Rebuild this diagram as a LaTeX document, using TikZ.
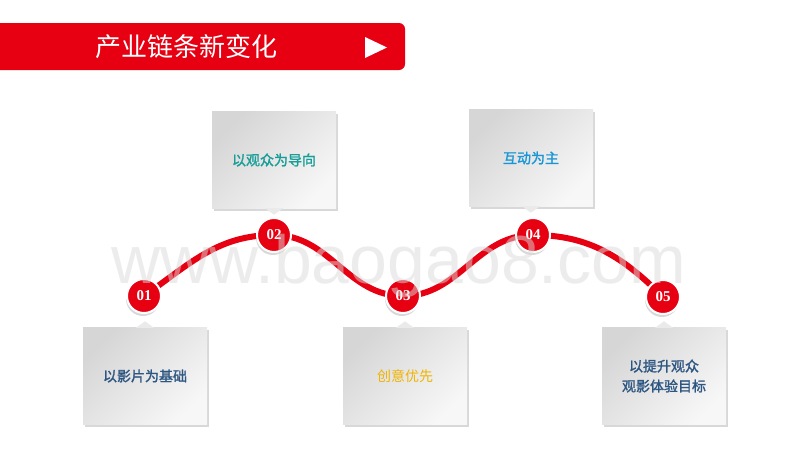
\documentclass[tikz,border=0pt]{standalone}
\usepackage{fontspec}
\newfontfamily\cjk{Noto Sans CJK SC}
\newfontfamily\cjkb[FakeBold=1.6]{Noto Sans CJK SC}
\newfontfamily\wmfont{Liberation Sans}
\newfontfamily\numfont{Liberation Serif}
\usetikzlibrary{shadows}
\definecolor{zred}{RGB}{230,0,18}
\definecolor{navy}{RGB}{46,86,130}
\definecolor{tealtext}{RGB}{24,158,152}
\definecolor{goldtext}{RGB}{240,180,0}
\definecolor{skytext}{RGB}{26,150,214}
\definecolor{cardlo}{RGB}{214,214,214}
\definecolor{cardhi}{RGB}{247,247,247}
\definecolor{notchgray}{RGB}{234,234,234}

\begin{document}
\begin{tikzpicture}[x=1pt,y=-1pt,
  card/.style={rectangle, minimum width=124pt, minimum height=97pt, inner sep=0pt, align=center,
    top color=cardlo, bottom color=cardhi, shading angle=45,
    drop shadow={shadow xshift=1.5pt, shadow yshift=-2.5pt, opacity=.3},
    font=\cjkb\fontsize{14}{20}\selectfont},
  dot/.style={circle, fill=zred, draw=white, line width=2pt, minimum size=34pt, inner sep=0pt,
    text=white, font=\numfont\bfseries\fontsize{15}{15}\selectfont,
    drop shadow={shadow xshift=-1pt, shadow yshift=-3pt, opacity=.3}},
  wave/.style={zred, line width=6pt}]
\useasboundingbox (0,0) rectangle (800,450);
\fill[white] (0,0) rectangle (800,450);

% header
\fill[zred, rounded corners=6pt] (-10,23) rectangle (405,70);
\node[text=white, font=\cjk\fontsize{26}{26}\selectfont] (title) at (186,47) {产业链条新变化};
\fill[white] (365,37) -- (387,47.5) -- (365,58) -- cycle;

\coordinate (p1) at (144,296);
\coordinate (p2) at (274,235);
\coordinate (p3) at (403,296);
\coordinate (p4) at (533,235);
\coordinate (p5) at (663,297);
\draw[wave] (p1) to[out=35,in=180] (p2) to[out=0,in=180] (p3) to[out=0,in=180] (p4) to[out=0,in=135] (p5);

\node[card, text=navy] (t1) at (145,376) {以影片为基础};
\node[card, text=tealtext] (t2) at (274,160) {以观众为导向};
\node[card, text=goldtext, font=\cjk\fontsize{14}{20}\selectfont] (t3) at (405,376) {创意优先};
\node[card, text=skytext] (t4) at (531,158) {互动为主};
\node[card, text=navy] (t5) at (664,376) {以提升观众\\观影体验目标};
\foreach \t in {t1,t3,t5}
  \fill[notchgray] (\t.north) ++(-9,0.5) -- ++(9,-6.5) -- ++(9,6.5) -- cycle;
\foreach \t in {t2,t4}
  \fill[notchgray] (\t.south) ++(-9,-0.5) -- ++(9,6.5) -- ++(9,-6.5) -- cycle;

\foreach \i in {1,...,5}
  \node[dot] (c\i) at (p\i) {0\i};

%\draw[help lines] (0,0) grid[step=50] (800,450);
\node[anchor=base, text=gray!28, text opacity=.5, font=\wmfont\fontsize{68}{68}\selectfont] (wm) at (399,283) {www.baogao8.com};
\end{tikzpicture}
\end{document}
